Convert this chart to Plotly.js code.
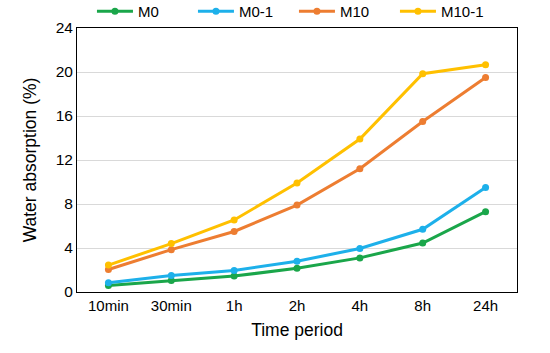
<!DOCTYPE html>
<html><head><meta charset="utf-8">
<script src="https://cdn.plot.ly/plotly-3.0.1.min.js"></script>
<style>html,body{margin:0;padding:0;background:#fff}#chart{width:550px;height:353px}</style>
</head><body><div id="chart"></div>
<script>
var categories = ["10min","30min","1h","2h","4h","8h","24h"];
var M0     = [0.6, 1.05, 1.45, 2.15, 3.1, 4.45, 7.3];
var M0_1   = [0.85, 1.5, 1.95, 2.8, 3.95, 5.7, 9.5];
var M10    = [2.05, 3.85, 5.5, 7.9, 11.2, 15.5, 19.5];
var M10_1  = [2.45, 4.4, 6.55, 9.9, 13.9, 19.85, 20.65];
var names = ["M0","M0-1","M10","M10-1"];
var colors = ["#1AA64A","#1DB0EA","#ED7D31","#FFC000"];
var series = [M0, M0_1, M10, M10_1];
var traces = series.map(function(s,i){
  return {x: categories, y: s, name: names[i], type: "scatter", mode: "lines+markers",
    line: {color: colors[i], width: 3}, marker: {color: colors[i], size: 7}};
});
var layout = {
  width: 550, height: 353,
  margin: {l: 77, r: 33, t: 28, b: 61, autoexpand: false},
  paper_bgcolor: "#fff", plot_bgcolor: "#fff",
  font: {family: "Liberation Sans, Arial, sans-serif", size: 15, color: "#000"},
  showlegend: true,
  legend: {orientation: "h", xref: "paper", x: 0.034, xanchor: "left", yref: "paper", y: 1.0, yanchor: "bottom",
    font: {size: 15}, itemwidth: 36, entrywidth: 50, tracegroupgap: 0, bgcolor: "rgba(0,0,0,0)"},
  xaxis: {type: "category", range: [-0.5, 6.5], showline: true, mirror: true, linecolor: "#000", linewidth: 1,
    ticks: "", showgrid: false, zeroline: false, title: {text: "Time period", font: {size: 17.5}, standoff: 10},
    tickfont: {size: 15}},
  yaxis: {range: [0, 24], dtick: 4, showline: true, mirror: true, linecolor: "#000", linewidth: 1,
    ticks: "", gridcolor: "#d9d9d9", gridwidth: 1, zeroline: false,
    title: {text: "Water absorption (%)", font: {size: 17.5}, standoff: 14}, tickfont: {size: 15.5}}
};
Plotly.newPlot("chart", traces, layout, {displayModeBar: false});
</script></body></html>
